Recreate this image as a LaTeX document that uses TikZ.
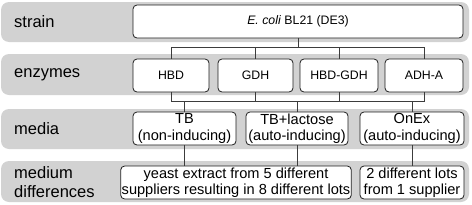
\documentclass[tikz,border=0pt]{standalone}
\usepackage{fontspec}
\setmainfont{Liberation Sans}
\usetikzlibrary{positioning}
\definecolor{bandgray}{RGB}{210,210,210}
\definecolor{edgeclr} {RGB}{30,30,30}
\definecolor{linkclr} {RGB}{60,60,60}

\begin{document}
\begin{tikzpicture}[x=1pt, y=-1pt,
    band/.style={fill=bandgray, draw=none, rounded corners=8pt},
    rowlabel/.style={anchor=west, align=left, inner sep=0pt,
      font=\fontsize{16.5}{18.5}\selectfont},
    unit/.style={draw=edgeclr, fill=white, rounded corners=4pt, line width=0.8pt,
      minimum height=33pt, inner sep=1pt, align=center},
    small/.style={unit, font=\fontsize{12.3}{14}\selectfont},
    large/.style={unit, font=\fontsize{14.6}{16.2}\selectfont},
    link/.style={draw=linkclr, line width=0.8pt}]
  \useasboundingbox (0,0) rectangle (472,204);
  % grey rows
  \fill[band] (1,2) rectangle (469,42);
  \fill[band] (1,54) rectangle (469,95);
  \fill[band] (1,109) rectangle (469,149);
  \fill[band] (1,161) rectangle (469,202);
  % row labels
  \node[rowlabel] (lstrain) at (14,22) {strain};
  \node[rowlabel] (lenz)    at (14,75) {enzymes};
  \node[rowlabel] (lmedia)  at (14,129) {media};
  \node[rowlabel] (ldiff)   at (14,182) {medium\\differences};
  % strain
  \node[small, minimum width=330pt] (strain) at (298,21.5) {\textit{E. coli} BL21 (DE3)};
  % enzymes
  \node[small, minimum width=76pt] (hbd)    at (171,75.5)   {HBD};
  \node[small, minimum width=75pt] (gdh)    at (255.5,75.5) {GDH};
  \node[small, minimum width=78pt] (hbdgdh) at (339,75.5)   {HBD-GDH};
  \node[small, minimum width=78pt] (adh)    at (424,75.5)   {ADH-A};
  % media
  \node[large, minimum width=103pt] (tb)   at (184.5,128.5) {TB\\(non-inducing)};
  \node[large, minimum width=102pt] (tbl)  at (297,128.5)   {TB+lactose\\(auto-inducing)};
  \node[large, minimum width=104pt] (onex) at (412,128.5)   {OnEx\\(auto-inducing)};
  % medium differences
  \node[large, minimum width=206pt] (yeast) at (236,182.5)
    {yeast extract from 5 different\\suppliers resulting in 8 different lots};
  \node[large, minimum width=104pt] (lots) at (412,182.5) {2 different lots\\from 1 supplier};
  % connectors
  \coordinate (mix) at (297,101);
  \foreach \e in {hbd, gdh, hbdgdh, adh} {
    \draw[link] (strain.south) -- ++(0,9) -| (\e.north);
    \draw[link] (\e.south) |- (mix);
  }
  \foreach \m in {tb, tbl, onex}
    \draw[link] (mix) -| (\m.north);
  \draw[link] (tb.south) -- (tb.south |- yeast.north);
  \draw[link] (tbl.south) -- (tbl.south |- yeast.north);
  \draw[link] (onex.south) -- (lots.north);
\end{tikzpicture}
\end{document}
